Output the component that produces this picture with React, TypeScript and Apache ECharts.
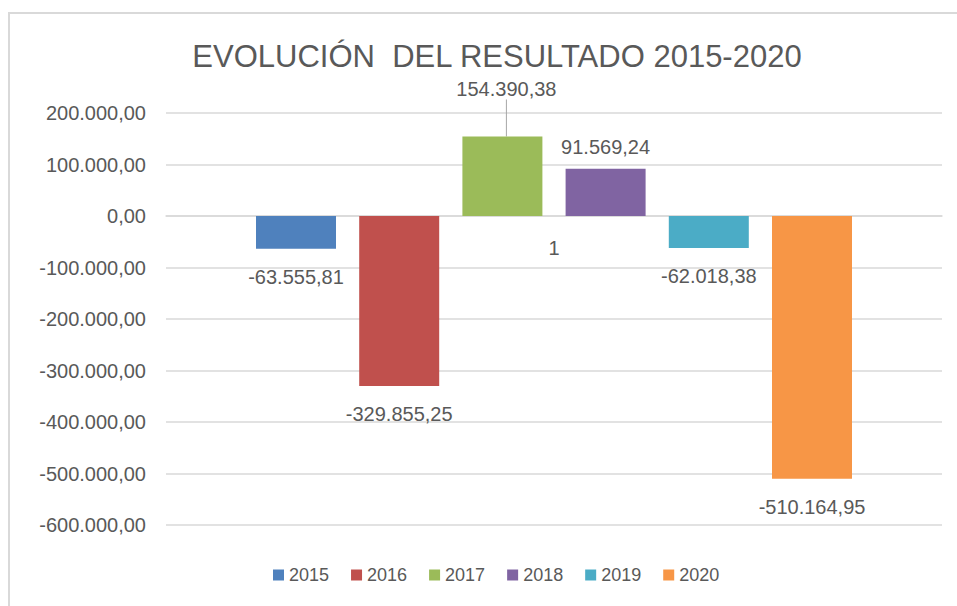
import React, { useEffect, useRef } from "react";
import * as echarts from "echarts";

const categories = ["1"];
const seriesNames = ["2015", "2016", "2017", "2018", "2019", "2020"];
const seriesValues = [-63555.81, -329855.25, 154390.38, 91569.24, -62018.38, -510164.95];
const seriesColors = ["#4f81bd", "#c0504d", "#9bbb59", "#8064a2", "#4bacc6", "#f79646"];
const yMin = -600000;
const yMax = 200000;
const yStep = 100000;
const titleText = "EVOLUCIÓN  DEL RESULTADO 2015-2020";

const FONT = "'Liberation Sans', Arial, sans-serif";
const TEXT = "#595959";

function fmtEs(v: number): string {
  const neg = v < 0;
  const abs = Math.abs(v);
  const [ip, dp] = abs.toFixed(2).split(".");
  const grouped = ip.replace(/\B(?=(\d{3})+(?!\d))/g, ".");
  return (neg ? "-" : "") + grouped + "," + dp;
}

export default function App() {
  const ref = useRef<HTMLDivElement>(null);
  useEffect(() => {
    if (!ref.current) return;
    const chart = echarts.init(ref.current, null, { renderer: "svg" });
    const series = seriesNames.map((name, i) => {
      const v = seriesValues[i];
      const s: any = {
        name,
        type: "bar",
        data: [v],
        barWidth: 80,
        barGap: "29%",
        itemStyle: { color: seriesColors[i] },
        label: {
          show: true,
          position: v < 0 ? "bottom" : "top",
          distance: v < 0 ? 18 : 12,
          color: TEXT,
          fontSize: 20,
          fontFamily: FONT,
          formatter: (p: any) => fmtEs(p.value),
        },
      };
      if (name === "2017") {
        s.labelLayout = { dx: 4, dy: -25 };
        s.labelLine = { show: true, lineStyle: { color: "#a6a6a6", width: 1 } };
      }
      return s;
    });
    chart.setOption({
      animation: false,
      backgroundColor: "#ffffff",
      title: {
        text: titleText,
        left: 492,
        top: 36,
        textAlign: "center",
        textStyle: { color: TEXT, fontSize: 31, fontWeight: "normal", fontFamily: FONT },
      },
      legend: {
        top: 561,
        left: 268,
        icon: "rect",
        itemWidth: 11,
        itemHeight: 11,
        itemGap: 22,
        textStyle: { color: TEXT, fontSize: 18, fontFamily: FONT },
        data: seriesNames,
      },
      grid: { left: 166, right: 15, top: 113, bottom: 81, containLabel: false },
      xAxis: {
        type: "category",
        data: categories,
        axisLine: { show: true, onZero: true, lineStyle: { color: "#d9d9d9", width: 1.5 } },
        axisTick: { show: false },
        axisLabel: { show: false },
      },
      yAxis: {
        type: "value",
        min: yMin,
        max: yMax,
        interval: yStep,
        axisLine: { show: false },
        axisTick: { show: false },
        splitLine: { lineStyle: { color: "#d9d9d9", width: 1.5 } },
        axisLabel: {
          color: TEXT,
          fontSize: 20,
          fontFamily: FONT,
          margin: 20,
          formatter: (v: number) => fmtEs(v),
        },
      },
      series,
    });
    const cx = chart.convertToPixel({ xAxisIndex: 0 }, categories[0]) as number;
    const zy = chart.convertToPixel({ yAxisIndex: 0 }, 0) as number;
    chart.setOption({
      graphic: [
        {
          type: "rect",
          shape: { x: 9, y: 13, width: 1000, height: 700 },
          style: { fill: "none", stroke: "#d9d9d9", lineWidth: 2 },
          silent: true,
        },
        {
          type: "text",
          x: cx,
          y: zy + 22,
          style: {
            text: categories[0],
            fill: TEXT,
            fontSize: 20,
            fontFamily: FONT,
            align: "center",
            verticalAlign: "top",
          },
          silent: true,
        },
      ],
    });
    return () => chart.dispose();
  }, []);
  return (
    <div
      ref={ref}
      style={{ position: "absolute", left: 0, top: 0, width: 957, height: 606 }}
    />
  );
}
